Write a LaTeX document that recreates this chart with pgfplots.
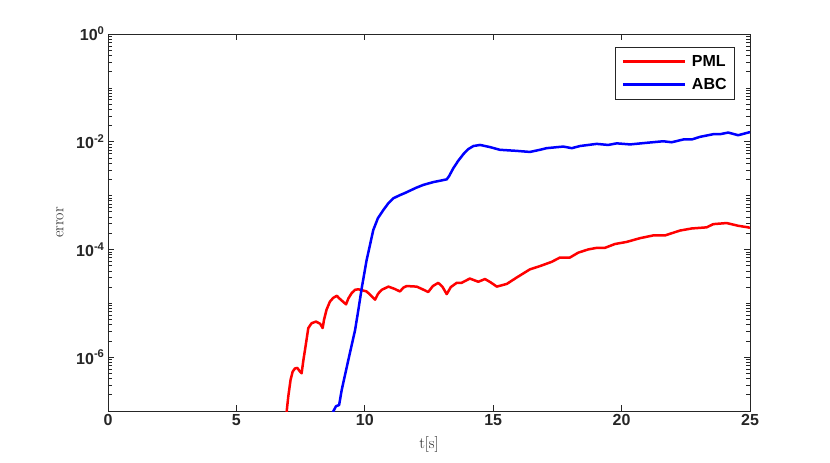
\documentclass[border=0pt]{standalone}
\usepackage{pgfplots}
\pgfplotsset{compat=1.18}
\usepackage{fontspec}
\newfontfamily\arial{Liberation Sans}
\definecolor{axgray}{rgb}{0.15,0.15,0.15}
\begin{document}
\begin{tikzpicture}
\useasboundingbox (-108pt,-52pt) rectangle (722pt,411pt);
\begin{axis}[
    at={(0pt,0pt)}, anchor=south west,
    scale only axis, width=642pt, height=377pt,
    xmin=0, xmax=25, ymin=1e-7, ymax=1,
    ymode=log,
    xtick={0,5,10,15,20,25},
    ytick={1e-6,1e-4,1e-2,1},
    yticklabels={10\textsuperscript{-6},10\textsuperscript{-4},10\textsuperscript{-2},10\textsuperscript{0}},
    minor ytick={2e-7,3e-7,4e-7,5e-7,6e-7,7e-7,8e-7,9e-7,
        2e-6,3e-6,4e-6,5e-6,6e-6,7e-6,8e-6,9e-6,1e-5,
        2e-5,3e-5,4e-5,5e-5,6e-5,7e-5,8e-5,9e-5,
        2e-4,3e-4,4e-4,5e-4,6e-4,7e-4,8e-4,9e-4,1e-3,
        2e-3,3e-3,4e-3,5e-3,6e-3,7e-3,8e-3,9e-3,
        2e-2,3e-2,4e-2,5e-2,6e-2,7e-2,8e-2,9e-2,1e-1,
        2e-1,3e-1,4e-1,5e-1,6e-1,7e-1,8e-1,9e-1},
    tick align=inside,
    major tick length=6pt, minor tick length=4pt,
    axis line style={axgray, line width=0.9pt},
    every tick/.style={axgray, line width=0.7pt},
    tick label style={font=\fontsize{16}{18}\selectfont\arial\bfseries, text=axgray},
    /pgf/number format/assume math mode=true,
    xlabel={t[s]}, ylabel={error},
    label style={font=\fontsize{16}{18}\selectfont, text=axgray},
    xlabel style={at={(axis description cs:0.5,-0.09)}, anchor=center},
    ylabel style={at={(axis description cs:-0.075,0.5)}, anchor=center},
    legend style={at={(0.9766,0.9663)}, anchor=north east, draw=axgray,
        line width=0.7pt, fill=white,
        font=\fontsize{16}{18}\selectfont\arial\bfseries,
        inner xsep=6pt, inner ysep=6.5pt, row sep=6.5pt, column sep=3.5pt},
    legend cell align=left,
    legend image code/.code={\draw[#1, line width=3pt] (0pt,0pt) -- (62pt,0pt);},
]

% PML
\addplot[red, line width=2.5pt, line join=round] coordinates {
    (6.94,8e-8) (6.96,1.0e-7) (7.02,1.86e-7) (7.11,3.80e-7) (7.19,5.37e-7)
    (7.28,6.17e-7) (7.37,6.31e-7) (7.48,5.37e-7) (7.54,5.01e-7)
    (7.61,8.9e-7) (7.67,1.35e-6) (7.74,2.24e-6) (7.80,3.47e-6) (7.93,4.27e-6)
    (8.10,4.57e-6) (8.26,4.17e-6) (8.36,3.47e-6) (8.41,4.9e-6) (8.51,7.59e-6)
    (8.64,1.07e-5) (8.77,1.26e-5) (8.91,1.38e-5) (9.01,1.23e-5) (9.27,9.55e-6)
    (9.36,1.23e-5) (9.49,1.55e-5) (9.62,1.78e-5) (9.75,1.82e-5) (10.07,1.66e-5)
    (10.25,1.38e-5) (10.40,1.17e-5) (10.52,1.51e-5) (10.66,1.78e-5) (10.92,2.04e-5)
    (11.15,1.86e-5) (11.37,1.66e-5) (11.50,1.95e-5) (11.63,2.09e-5) (12.02,2.04e-5)
    (12.25,1.82e-5) (12.47,1.62e-5) (12.65,2.09e-5) (12.86,2.40e-5) (13.02,2.04e-5)
    (13.19,1.48e-5) (13.35,2.00e-5) (13.58,2.40e-5) (13.77,2.40e-5)
    (14.09,2.88e-5) (14.42,2.51e-5) (14.68,2.82e-5) (14.90,2.45e-5) (15.14,2.04e-5)
    (15.53,2.29e-5) (15.92,3.02e-5) (16.43,4.27e-5) (16.82,4.90e-5) (17.28,5.89e-5)
    (17.60,7.08e-5) (17.99,7.08e-5) (18.31,8.71e-5) (18.70,1.00e-4) (19.03,1.07e-4)
    (19.35,1.07e-4) (19.74,1.26e-4) (20.20,1.38e-4) (20.72,1.62e-4) (21.23,1.82e-4)
    (21.69,1.82e-4) (22.27,2.24e-4) (22.73,2.45e-4) (23.31,2.57e-4) (23.57,2.95e-4)
    (24.09,3.09e-4) (24.54,2.75e-4) (24.93,2.57e-4) (25.00,2.51e-4)
};
\addlegendentry{PML}

% ABC
\addplot[blue, line width=2.5pt, line join=round] coordinates {
    (8.74,9e-8) (8.77,9.8e-8) (8.88,1.23e-7) (9.00,1.29e-7) (9.10,2.45e-7)
    (9.36,8.91e-7) (9.62,3.16e-6) (9.75,7.59e-6) (9.88,1.91e-5) (10.07,6.31e-5)
    (10.20,1.20e-4) (10.33,2.29e-4) (10.51,3.80e-4) (10.72,5.37e-4) (10.92,7.24e-4)
    (11.11,8.91e-4) (11.37,1.02e-3) (11.57,1.12e-3) (11.89,1.32e-3) (12.02,1.41e-3)
    (12.28,1.58e-3) (12.67,1.78e-3) (13.19,2.00e-3) (13.28,2.29e-3) (13.45,3.24e-3)
    (13.63,4.37e-3) (13.84,5.89e-3) (14.02,7.24e-3) (14.23,8.32e-3) (14.49,8.71e-3)
    (14.88,7.94e-3) (15.26,7.08e-3) (15.92,6.76e-3) (16.43,6.46e-3) (16.82,7.08e-3)
    (17.08,7.59e-3) (17.73,8.13e-3) (18.06,7.59e-3) (18.38,8.32e-3) (19.03,9.12e-3)
    (19.48,8.71e-3) (19.81,9.33e-3) (20.33,8.91e-3) (20.98,9.55e-3) (21.62,1.02e-2)
    (21.95,9.77e-3) (22.40,1.10e-2) (22.73,1.10e-2) (23.05,1.23e-2) (23.57,1.38e-2)
    (23.83,1.38e-2) (24.15,1.48e-2) (24.54,1.32e-2) (24.93,1.48e-2) (25.00,1.51e-2)
};
\addlegendentry{ABC}

\end{axis}
\end{tikzpicture}
\end{document}
